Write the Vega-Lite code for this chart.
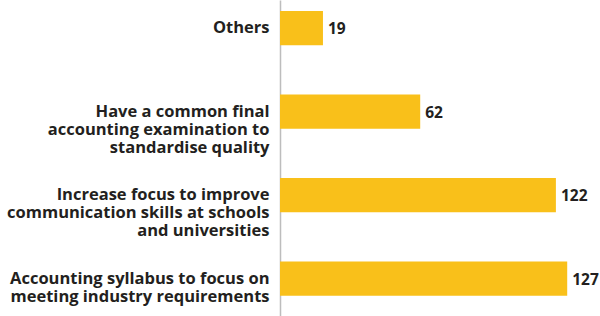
{
  "$schema": "https://vega.github.io/schema/vega-lite/v6.json",
  "autosize": "none",
  "width": 320,
  "height": 316,
  "padding": {"left": 280, "top": 0, "right": 0, "bottom": 0},
  "background": "white",
  "config": {"view": {"stroke": null}},
  "data": {"values": [
    {"cat": "Others", "value": 19},
    {"cat": "Have a common final|accounting examination to|standardise quality", "value": 62},
    {"cat": "Increase focus to improve|communication skills at schools|and universities", "value": 122},
    {"cat": "Accounting syllabus to focus on|meeting industry requirements", "value": 127}
  ]},
  "encoding": {
    "y": {"field": "cat", "type": "nominal", "sort": null,
      "scale": {"paddingInner": 0.59, "paddingOuter": 0.187, "align": 0.35},
      "axis": {"title": null, "ticks": false, "domainColor": "#bdbdbd", "domainWidth": 1.5,
        "labelExpr": "split(datum.value, '|')", "labelFont": "Open Sans", "labelFontWeight": "bold",
        "labelFontSize": 16.5, "labelColor": "#231f20", "labelLineHeight": 18, "labelPadding": 11, "labelLimit": 0}},
    "x": {"field": "value", "type": "quantitative", "scale": {"domain": [0, 141.5]}, "axis": null}
  },
  "layer": [
    {"mark": {"type": "bar", "color": "#f9c01a"}},
    {"mark": {"type": "text", "align": "left", "dx": 5, "dy": 1, "font": "Open Sans", "fontWeight": "bold", "fontSize": 15.5, "color": "#231f20"},
     "encoding": {"text": {"field": "value", "type": "quantitative"}}}
  ]
}
